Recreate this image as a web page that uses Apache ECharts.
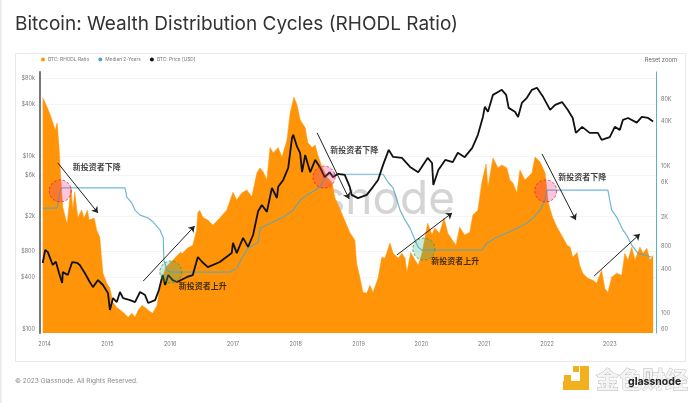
<!DOCTYPE html>
<html>
<head>
<meta charset="utf-8">
<style>
html, body { margin: 0; padding: 0; background: #fff; }
#chart { width: 700px; height: 403px; }
</style>
</head>
<body>
<div id="chart"></div>
<script src="https://cdn.jsdelivr.net/npm/echarts@6/dist/echarts.min.js"></script>
<script>
var rhodlYears = [2013.97,2014.04,2014.09,2014.12,2014.17,2014.20,2014.23,2014.26,2014.29,2014.34,2014.36,2014.42,2014.45,2014.48,2014.53,2014.59,2014.63,2014.68,2014.71,2014.79,2014.83,2014.88,2014.90,2014.93,2014.99,2015.04,2015.09,2015.15,2015.25,2015.33,2015.39,2015.44,2015.49,2015.55,2015.60,2015.65,2015.72,2015.79,2015.82,2015.88,2015.93,2016.04,2016.16,2016.20,2016.27,2016.36,2016.42,2016.44,2016.47,2016.52,2016.60,2016.68,2016.79,2016.90,2017.00,2017.06,2017.14,2017.22,2017.30,2017.38,2017.43,2017.48,2017.54,2017.59,2017.64,2017.72,2017.78,2017.86,2017.91,2017.97,2018.02,2018.07,2018.15,2018.19,2018.26,2018.31,2018.35,2018.42,2018.50,2018.58,2018.62,2018.73,2018.86,2018.94,2018.97,2019.02,2019.07,2019.13,2019.18,2019.23,2019.31,2019.37,2019.42,2019.50,2019.55,2019.63,2019.69,2019.74,2019.77,2019.83,2019.90,2019.95,2020.01,2020.10,2020.17,2020.21,2020.29,2020.36,2020.42,2020.55,2020.61,2020.69,2020.77,2020.82,2020.90,2020.96,2021.03,2021.06,2021.14,2021.22,2021.28,2021.36,2021.41,2021.46,2021.52,2021.57,2021.65,2021.76,2021.81,2021.89,2021.97,2022.02,2022.09,2022.16,2022.25,2022.32,2022.37,2022.41,2022.48,2022.52,2022.57,2022.65,2022.73,2022.79,2022.87,2022.92,2022.97,2023.03,2023.11,2023.19,2023.24,2023.29,2023.35,2023.40,2023.48,2023.53,2023.59,2023.64,2023.69];
var rhodlValues = [85000,63000,49200,50700,30800,38400,18000,6430,2760,1840,1670,5150,2510,4400,2000,2510,1960,2510,1840,1960,1340,1075,650,350,255,218,140,120,103,88,100,88,110,128,120,110,100,128,187,308,420,525,670,650,760,840,1340,2290,2510,2000,1840,1570,1960,2510,4400,3440,4300,4700,3800,8000,9400,8300,6430,17800,15000,17800,13200,22500,52000,86000,67300,42100,33000,20700,17800,19200,14100,9600,7000,5900,3750,2290,1250,982,470,308,192,187,240,192,298,575,560,900,650,560,650,560,360,670,525,449,650,1670,1150,1440,1220,1960,1220,840,1470,1150,1260,2150,2510,5800,10600,5150,12800,9400,10300,9400,6430,5800,4300,8790,6430,8000,13200,11300,8000,3150,2000,1470,1075,840,790,575,670,449,350,298,281,255,384,218,192,308,350,328,650,525,790,525,790,650,760,525,614];

var medianYears = [2013.97,2014.20,2014.25,2014.28,2015.28,2015.31,2015.39,2015.44,2015.52,2015.65,2015.73,2015.84,2015.89,2015.90,2015.95,2016.00,2016.95,2017.06,2017.14,2017.24,2017.40,2017.43,2017.59,2017.80,2017.96,2018.07,2018.23,2018.39,2018.46,2018.53,2019.39,2019.47,2019.55,2019.61,2019.66,2019.74,2019.82,2019.90,2019.95,2020.01,2020.96,2021.04,2021.20,2021.46,2021.68,2021.78,2021.89,2021.97,2022.00,2022.97,2023.03,2023.11,2023.21,2023.27,2023.35,2023.45,2023.53,2023.67];
var medianValues = [2670,2680,4700,5020,5020,3780,3130,2510,2150,1960,1730,1340,1050,525,384,361,361,409,560,765,920,1420,1670,2020,2510,3440,4300,5150,7000,7700,7700,6000,5020,3440,2510,1840,1430,982,790,718,718,890,1075,1340,1670,1960,2510,3440,4700,4700,2510,2020,1340,1150,840,650,630,575];

var priceYears = [2013.97,2014.01,2014.05,2014.13,2014.18,2014.23,2014.28,2014.29,2014.37,2014.44,2014.52,2014.56,2014.64,2014.72,2014.77,2014.85,2014.93,2015.01,2015.04,2015.09,2015.15,2015.20,2015.25,2015.36,2015.44,2015.52,2015.60,2015.65,2015.76,2015.82,2015.88,2015.92,2015.97,2016.04,2016.11,2016.27,2016.36,2016.44,2016.51,2016.60,2016.79,2016.98,2017.00,2017.06,2017.16,2017.24,2017.32,2017.40,2017.46,2017.54,2017.62,2017.70,2017.72,2017.80,2017.88,2017.94,2017.96,2018.02,2018.07,2018.10,2018.15,2018.23,2018.31,2018.39,2018.46,2018.54,2018.59,2018.67,2018.78,2018.86,2018.89,2018.99,2019.13,2019.23,2019.31,2019.39,2019.48,2019.55,2019.69,2019.82,2019.95,2020.10,2020.17,2020.19,2020.27,2020.38,2020.50,2020.58,2020.69,2020.81,2020.90,2020.98,2021.01,2021.06,2021.14,2021.22,2021.28,2021.35,2021.39,2021.49,2021.54,2021.60,2021.68,2021.76,2021.84,2021.94,2022.05,2022.13,2022.24,2022.33,2022.41,2022.46,2022.56,2022.68,2022.81,2022.87,2023.00,2023.08,2023.16,2023.21,2023.29,2023.43,2023.51,2023.61,2023.69];
var priceValues = [580,820,780,550,600,445,340,455,421,595,580,550,445,350,305,368,323,260,166,228,205,268,228,216,205,268,247,200,216,282,421,323,421,368,350,400,421,680,595,520,595,755,990,755,1130,890,1222,2300,2720,2260,4280,3270,4400,5290,7300,16200,17550,12800,10800,6500,10300,6500,9010,7300,5700,6500,5700,6200,6040,4400,3550,3260,3550,4400,5290,7890,11770,9760,9500,7480,6500,9500,8300,4630,6900,9010,8500,10900,9700,12400,17550,28300,37000,32400,50900,55000,58200,50900,36000,32400,28300,41000,47000,58200,61500,48000,34160,39020,42000,34160,27500,18500,21700,18500,18500,15360,16500,21700,20050,26170,27500,24300,28300,27500,25000];

var yearTicks = [2014,2015,2016,2017,2018,2019,2020,2021,2022,2023];
var priceTicks = [100,400,800,2000,6000,10000,40000,80000];
var priceTickLabels = ['$100','$400','$800','$2k','$6k','$10k','$40k','$80k'];
var ratioTicks = [60,100,400,800,2000,6000,10000,40000,80000];
var ratioTickLabels = ['60','100','400','800','2K','6K','10K','40K','80K'];

var redCircles = [[2014.25,3950],[2018.45,5700],[2021.98,3950]];
var greenCircles = [[2016.01,456],[2020.04,840]];
var downText = '新投资者下降';
var upText = '新投资者上升';
var downLabels = [[2014.83,7480],[2018.93,11770],[2022.56,5700]];
var upLabels = [[2016.52,314],[2020.54,612]];
var arrows = [
    [[2014.21,8320],[2014.85,2200]],
    [[2018.34,18500],[2018.85,3190]],
    [[2021.92,10600],[2022.46,1823]],
    [[2015.57,358],[2016.39,1553]],
    [[2019.61,718],[2020.49,2200]],
    [[2022.75,410],[2023.48,1255]]
];

function zip(xs, ys) {
    var out = [];
    for (var i = 0; i < xs.length; i++) {
        out.push([xs[i], ys[i]]);
    }
    return out;
}

function labelFrom(ticks, labels) {
    return function (v) {
        for (var i = 0; i < ticks.length; i++) {
            if (Math.abs(ticks[i] - v) < ticks[i] * 0.001) return labels[i];
        }
        return '';
    };
}

function circleSeries(data, fill, border) {
    return {
        type: 'scatter',
        yAxisIndex: 0,
        data: data,
        symbolSize: 22,
        z: 6,
        silent: true,
        itemStyle: { color: fill, borderColor: border, borderWidth: 1, borderType: [2.5, 2] }
    };
}

function textSeries(data, text) {
    return {
        type: 'scatter',
        yAxisIndex: 0,
        data: data,
        symbolSize: 0,
        z: 8,
        silent: true,
        label: {
            show: true,
            position: 'inside',
            formatter: text,
            color: '#111',
            fontSize: 8,
            fontWeight: 'bold',
            fontFamily: 'Noto Sans CJK SC'
        }
    };
}

var arrowLines = arrows.map(function (a) {
    return [{ coord: a[0] }, { coord: a[1] }];
});

var chart = echarts.init(document.getElementById('chart'), null, { renderer: 'canvas' });

chart.setOption({
    animation: false,
    backgroundColor: '#fff',
    title: {
        text: 'Bitcoin: Wealth Distribution Cycles (RHODL Ratio)',
        left: 15,
        top: 15,
        padding: 0,
        textStyle: { color: '#333', fontSize: 19, fontWeight: 'normal', fontFamily: 'Inter' }
    },
    legend: {
        left: 41,
        top: 57,
        padding: 0,
        itemWidth: 4,
        itemHeight: 4,
        itemGap: 9,
        icon: 'circle',
        data: ['BTC: RHODL Ratio', 'Median 2-Years', 'BTC: Price [USD]'],
        textStyle: { color: '#777', fontSize: 4.8, padding: [0, 0, 0, -2], fontFamily: 'Inter' }
    },
    grid: { left: 40, right: 44, top: 72, bottom: 70 },
    xAxis: {
        type: 'value',
        min: 2013.927,
        max: 2023.736,
        splitLine: { show: false },
        axisLine: { show: false },
        axisTick: { show: false },
        axisLabel: {
            customValues: yearTicks,
            formatter: function (v) { return String(v); },
            color: '#777',
            fontSize: 5.5,
            margin: 8,
            fontFamily: 'Inter'
        }
    },
    yAxis: [{
        type: 'log',
        min: 90,
        max: 93500,
        position: 'left',
        axisLine: { show: true, lineStyle: { color: '#777', width: 2 } },
        axisTick: { show: false, customValues: priceTicks },
        axisLabel: {
            customValues: priceTicks,
            formatter: labelFrom(priceTicks, priceTickLabels),
            color: '#777',
            fontSize: 5.5,
            margin: 5,
            fontFamily: 'Inter'
        },
        splitLine: { show: true, lineStyle: { color: '#ececec', width: 0.6 } }
    }, {
        type: 'log',
        min: 54,
        max: 188000,
        position: 'right',
        axisLine: { show: true, lineStyle: { color: '#62aed0', width: 1 } },
        axisTick: { show: false, customValues: ratioTicks },
        axisLabel: {
            customValues: ratioTicks,
            formatter: labelFrom(ratioTicks, ratioTickLabels),
            color: '#777',
            fontSize: 5.5,
            margin: 5,
            fontFamily: 'Inter'
        },
        splitLine: { show: false }
    }],
    series: [{
        name: 'BTC: RHODL Ratio',
        type: 'line',
        yAxisIndex: 1,
        data: zip(rhodlYears, rhodlValues),
        showSymbol: false,
        z: 2,
        itemStyle: { color: '#ff9409' },
        lineStyle: { color: '#ff9409', width: 0.5 },
        areaStyle: { color: '#ff9409', opacity: 1, origin: 'start' }
    }, {
        name: 'Median 2-Years',
        type: 'line',
        yAxisIndex: 1,
        data: zip(medianYears, medianValues),
        showSymbol: false,
        z: 3,
        itemStyle: { color: '#4ba6cb' },
        lineStyle: { color: '#4ba6cb', width: 1.2, opacity: 0.8 }
    }, {
        name: 'BTC: Price [USD]',
        type: 'line',
        yAxisIndex: 0,
        data: zip(priceYears, priceValues),
        showSymbol: false,
        z: 4,
        itemStyle: { color: '#111' },
        lineStyle: { color: '#111', width: 1.8 }
    },
    circleSeries(redCircles, 'rgba(240,50,130,0.35)', '#e0203c'),
    circleSeries(greenCircles, 'rgba(60,180,140,0.35)', '#2a9a50'),
    textSeries(downLabels, downText),
    textSeries(upLabels, upText),
    {
        type: 'scatter',
        yAxisIndex: 0,
        data: [],
        z: 7,
        silent: true,
        markLine: {
            silent: true,
            symbol: ['none', 'arrow'],
            symbolSize: 6,
            label: { show: false },
            lineStyle: { color: '#222', width: 1, type: 'solid' },
            data: arrowLines
        }
    }],
    graphic: [
        { type: 'rect', z: -2, silent: true, shape: { x: 0, y: 0, width: 1.5, height: 403 }, style: { fill: '#e8e8e8' } },
        { type: 'rect', z: -2, silent: true, shape: { x: 15.5, y: 53.5, width: 670, height: 308 }, style: { fill: 'none', stroke: '#e8e8e8', lineWidth: 1 } },
        { type: 'text', z: 0, silent: true, x: 455, y: 200, style: { text: 'snode', font: '46px Inter', fill: '#d4d4d4', textAlign: 'right', textVerticalAlign: 'middle' } },
        { type: 'text', silent: true, x: 677, y: 60, style: { text: 'Reset zoom', font: '5.8px Inter', fill: '#666', textAlign: 'right', textVerticalAlign: 'middle' } },
        { type: 'text', silent: true, x: 15, y: 381, style: { text: '© 2023 Glassnode. All Rights Reserved.', font: '6.5px Inter', fill: '#888', textVerticalAlign: 'middle' } },
        { type: 'rect', silent: true, shape: { x: 580, y: 366, width: 9, height: 24 }, style: { fill: '#f2b01e' } },
        { type: 'rect', silent: true, shape: { x: 563, y: 381, width: 26, height: 9 }, style: { fill: '#f2b01e' } },
        { type: 'rect', silent: true, shape: { x: 564, y: 375, width: 7, height: 6 }, style: { fill: '#f2b01e' } },
        { type: 'rect', silent: true, shape: { x: 573, y: 366, width: 6, height: 6 }, style: { fill: '#f2b01e' } },
        { type: 'text', silent: true, x: 596, y: 379, style: { text: '金色财经', font: 'bold 23px "Noto Sans CJK SC"', fill: '#f4f4f4', stroke: '#b5b5b5', lineWidth: 0.8, textVerticalAlign: 'middle' } },
        { type: 'text', silent: true, x: 628, y: 382, style: { text: 'glassnode', font: 'bold 10.5px Inter', fill: '#222', textVerticalAlign: 'middle' } }
    ]
});
</script>
</body>
</html>
